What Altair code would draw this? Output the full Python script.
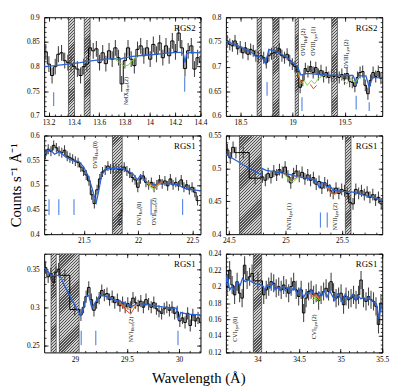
import altair as alt
import pandas as pd

FONT = "Liberation Serif"
W, H = 160, 101
BLUE = "#2a62d4"
MARKC = "#5a8ae6"
ERRC = "#444444"
FS_MAIN, FS_SUB = 6, 4.5

# ---------------- data: spectra as (bin_start, bin_width, values) segments ----------------
p1_bins = [(13.165, 0.025, [0.830, 0.805, 0.782, 0.800, 0.825, 0.828, 0.812, 0.808, 0.806, 0.800,
                            0.795, 0.782, 0.800, 0.805, 0.838, 0.832, 0.836, 0.808, 0.828, 0.806,
                            0.832, 0.815, 0.838, 0.818, 0.765, 0.812, 0.838, 0.815, 0.802, 0.835,
                            0.842, 0.822, 0.838, 0.815, 0.845, 0.825, 0.848, 0.818, 0.842, 0.822,
                            0.852, 0.830, 0.868, 0.838, 0.796, 0.832, 0.842, 0.795, 0.818, 0.808])]
p2_bins = [(18.36, 0.025, [0.752, 0.745, 0.742, 0.752, 0.736, 0.740, 0.728, 0.738, 0.725, 0.735,
                           0.732, 0.722, 0.720, 0.722, 0.718, 0.708, 0.722, 0.726, 0.728, 0.730,
                           0.736, 0.722, 0.718, 0.725, 0.712, 0.705, 0.700, 0.690, 0.658, 0.672,
                           0.696, 0.690, 0.700, 0.688, 0.698, 0.684, 0.692, 0.680, 0.688, 0.678,
                           0.682, 0.680, 0.683, 0.678, 0.684, 0.675, 0.686, 0.670, 0.668, 0.660,
                           0.678, 0.688, 0.690, 0.662, 0.645, 0.672, 0.688, 0.680, 0.690, 0.676])]
p3_bins = [(21.135, 0.025, [0.562, 0.572, 0.568, 0.580, 0.575, 0.568, 0.565, 0.570, 0.558, 0.555,
                            0.552, 0.548, 0.545, 0.536, 0.528, 0.520, 0.508, 0.480, 0.462, 0.490,
                            0.512, 0.526, 0.530, 0.538, 0.532, 0.534, 0.533, 0.532, 0.530, 0.536,
                            0.528, 0.524, 0.515, 0.510, 0.495, 0.512, 0.518, 0.505, 0.500, 0.505,
                            0.495, 0.500, 0.510, 0.502, 0.508, 0.498, 0.512, 0.500, 0.505, 0.498,
                            0.510, 0.495, 0.500, 0.490, 0.495, 0.485, 0.468])]
p4_bins = [(24.475, 0.025, [0.528, 0.516, 0.532, 0.524]),
           (24.575, 0.105, [0.524, 0.485]),
           (24.785, 0.025, [0.487, 0.482, 0.492, 0.486, 0.496, 0.490, 0.498, 0.494, 0.502, 0.488,
                            0.478, 0.492, 0.496, 0.488, 0.494, 0.484, 0.490, 0.482, 0.486, 0.476,
                            0.480, 0.470, 0.478, 0.474, 0.466, 0.462, 0.470, 0.462, 0.468, 0.466,
                            0.462, 0.448, 0.446, 0.468, 0.462, 0.466, 0.460, 0.464, 0.456, 0.460,
                            0.452, 0.456, 0.446])]
p5_bins = [(28.705, 0.025, [0.352, 0.340, 0.344, 0.333, 0.346, 0.350]),
           (28.855, 0.095, [0.342, 0.297]),
           (29.045, 0.025, [0.290, 0.300, 0.314, 0.326, 0.310, 0.296, 0.306, 0.312, 0.322, 0.316,
                            0.318, 0.310, 0.314, 0.306, 0.310, 0.302, 0.306, 0.300, 0.305, 0.300,
                            0.312, 0.306, 0.302, 0.308, 0.300, 0.310, 0.304, 0.300, 0.306, 0.298,
                            0.295, 0.292, 0.298, 0.300, 0.296, 0.300, 0.292, 0.294, 0.282, 0.286,
                            0.280, 0.292, 0.276, 0.290, 0.282, 0.286, 0.280])]
p6_bins = [(33.62, 0.03, [0.200, 0.220, 0.202, 0.190, 0.206, 0.192, 0.186, 0.226, 0.208, 0.212, 0.216]),
           (33.95, 0.11, [0.207]),
           (34.06, 0.03, [0.190, 0.196, 0.200, 0.206, 0.204, 0.198, 0.200, 0.196, 0.202, 0.198,
                          0.192, 0.200, 0.206, 0.196, 0.188, 0.196, 0.168, 0.186, 0.194, 0.196,
                          0.190, 0.192, 0.183, 0.190, 0.194, 0.198, 0.194, 0.206, 0.193, 0.186,
                          0.188, 0.192, 0.178, 0.188, 0.184, 0.186, 0.190, 0.184, 0.190, 0.208,
                          0.186, 0.182, 0.188, 0.184, 0.182, 0.176, 0.154, 0.180])]
errs = [0.016, 0.012, 0.010, 0.009, 0.008, 0.011]

# ---------------- continuum + absorption model (blue) ----------------
p1_mod_wl = [13.165, 13.25, 13.35, 13.45, 13.55, 13.65, 13.72, 13.76, 13.79, 13.85, 13.95, 14.05,
             14.15, 14.24, 14.265, 14.278, 14.29, 14.32, 14.4]
p1_mod = [0.800, 0.802, 0.805, 0.808, 0.812, 0.815, 0.816, 0.814, 0.817, 0.820, 0.823, 0.825,
          0.828, 0.829, 0.826, 0.808, 0.826, 0.829, 0.828]
p2_mod_wl = [18.36, 18.45, 18.516, 18.6, 18.641, 18.704, 18.741, 18.772, 18.86, 18.92, 18.985, 19.047,
             19.079, 19.126, 19.172, 19.297, 19.454, 19.579, 19.61, 19.641, 19.704, 19.735, 19.766, 19.86]
p2_mod = [0.751, 0.745, 0.738, 0.730, 0.722, 0.719, 0.706, 0.735, 0.729, 0.722, 0.712, 0.700,
          0.683, 0.686, 0.686, 0.683, 0.682, 0.682, 0.667, 0.681, 0.681, 0.658, 0.678, 0.677]
p3_mod_wl = [21.135, 21.186, 21.231, 21.276, 21.336, 21.396, 21.455, 21.5, 21.545, 21.584, 21.614,
             21.635, 21.665, 21.71, 21.77, 21.86, 21.95, 21.994, 22.024, 22.069, 22.129, 22.249,
             22.369, 22.429, 22.575]
p3_mod = [0.562, 0.572, 0.562, 0.567, 0.556, 0.549, 0.547, 0.536, 0.516, 0.487, 0.464, 0.484,
          0.520, 0.533, 0.534, 0.533, 0.523, 0.510, 0.520, 0.507, 0.500, 0.503, 0.500, 0.493, 0.488]
p4_mod_wl = [24.474, 24.785, 24.795, 24.83, 24.9, 25.0, 25.05, 25.1, 25.2, 25.27, 25.30, 25.32,
             25.35, 25.37, 25.39, 25.42, 25.46, 25.5, 25.6, 25.7, 25.8, 25.856]
p4_mod = [0.521, 0.490, 0.500, 0.497, 0.495, 0.492, 0.490, 0.488, 0.485, 0.481, 0.471, 0.479,
          0.477, 0.470, 0.475, 0.467, 0.466, 0.465, 0.464, 0.459, 0.455, 0.450]
p5_mod_wl = [28.704, 28.773, 28.835, 28.867, 28.898, 29.054, 29.079, 29.11, 29.132, 29.163, 29.194,
             29.241, 29.304, 29.366, 29.429, 29.491, 29.538, 29.616, 29.71, 29.804, 29.929, 29.976,
             29.991, 30.016, 30.085, 30.21]
p5_mod = [0.352, 0.342, 0.342, 0.339, 0.329, 0.289, 0.297, 0.314, 0.316, 0.299, 0.306, 0.316,
          0.314, 0.310, 0.308, 0.305, 0.301, 0.305, 0.303, 0.301, 0.299, 0.299, 0.283, 0.293,
          0.291, 0.290]
p6_mod_wl = [33.617, 33.637, 33.664, 33.695, 33.726, 33.754, 33.793, 33.82, 33.852, 33.891, 33.93,
             33.961, 34.055, 34.086, 34.117, 34.149, 34.18, 34.211, 34.242, 34.274, 34.305, 34.336,
             34.367, 34.399, 34.438, 34.477, 34.516, 34.555, 34.586, 34.617, 34.649, 34.68, 34.711,
             34.742, 34.774, 34.805, 34.836, 34.868, 34.899, 34.93, 34.961, 34.993, 35.024, 35.055,
             35.086, 35.118, 35.149, 35.18, 35.211, 35.243, 35.274, 35.305, 35.336, 35.368, 35.399,
             35.43, 35.462, 35.485, 35.5]
p6_mod = [0.202, 0.214, 0.196, 0.200, 0.195, 0.206, 0.202, 0.210, 0.206, 0.208, 0.206,
          0.204, 0.202, 0.196, 0.202, 0.198, 0.204, 0.196, 0.200, 0.195, 0.200, 0.195,
          0.199, 0.193, 0.200, 0.191, 0.198, 0.187, 0.193, 0.191, 0.196, 0.189, 0.187,
          0.193, 0.189, 0.195, 0.187, 0.195, 0.189, 0.183, 0.191, 0.187, 0.181, 0.191,
          0.185, 0.187, 0.191, 0.183, 0.189, 0.185, 0.187, 0.183, 0.187, 0.183, 0.181,
          0.179, 0.161, 0.177, 0.175]

# ---------------- alternative models (green / red / orange) : (colour, segment, wl, value) ----
p1_alt = [("green", 1, [13.72, 13.76, 13.80, 13.83, 13.86, 13.90], [0.816, 0.808, 0.801, 0.803, 0.812, 0.820])]
p2_alt = [("green", 1, [19.05, 19.08, 19.11, 19.14, 19.18, 19.21, 19.25, 19.30],
           [0.690, 0.665, 0.672, 0.662, 0.672, 0.665, 0.676, 0.682]),
          ("green", 2, [19.44, 19.48, 19.52, 19.56, 19.60, 19.64], [0.682, 0.674, 0.665, 0.676, 0.668, 0.680]),
          ("red", 3, [19.17, 19.20, 19.23], [0.664, 0.655, 0.662]),
          ("red", 4, [19.05, 19.08, 19.10], [0.685, 0.668, 0.675])]
p3_alt = [("green", 1, [22.08, 22.11, 22.14, 22.17, 22.20], [0.504, 0.497, 0.490, 0.494, 0.502]),
          ("red", 2, [22.08, 22.11, 22.14, 22.17, 22.21], [0.506, 0.501, 0.497, 0.500, 0.505]),
          ("orange", 3, [22.09, 22.12, 22.15, 22.18, 22.21], [0.505, 0.499, 0.495, 0.499, 0.504])]
p4_alt = [("green", 1, [24.98, 25.02, 25.05, 25.08, 25.12], [0.492, 0.486, 0.479, 0.481, 0.488]),
          ("red", 2, [24.98, 25.02, 25.05, 25.08, 25.12], [0.493, 0.488, 0.482, 0.484, 0.489]),
          ("orange", 3, [25.37, 25.40, 25.43, 25.46], [0.472, 0.463, 0.460, 0.464]),
          ("red", 4, [25.37, 25.41, 25.44, 25.47], [0.471, 0.462, 0.461, 0.465])]
p5_alt = [("red", 1, [29.42, 29.46, 29.50, 29.535, 29.57, 29.61], [0.307, 0.300, 0.295, 0.291, 0.299, 0.305]),
          ("orange", 2, [29.44, 29.48, 29.52, 29.56, 29.60], [0.305, 0.300, 0.297, 0.300, 0.304])]
p6_alt = [("red", 1, [34.63, 34.66, 34.69, 34.72, 34.75], [0.192, 0.188, 0.191, 0.186, 0.189]),
          ("green", 2, [34.64, 34.67, 34.70, 34.73, 34.76], [0.186, 0.184, 0.187, 0.183, 0.186]),
          ("orange", 3, [34.65, 34.68, 34.71, 34.74], [0.190, 0.187, 0.189, 0.185])]

# ---------------- excluded regions (hatched) ----------------
p1_bands = [(13.357, 13.405), (13.482, 13.528)]
p2_bands = [(18.66, 18.70), (18.81, 18.87), (19.025, 19.056), (19.375, 19.43)]
p3_bands = [(21.764, 21.854)]
p4_bands = [(24.594, 24.787), (25.53, 25.58)]
p5_bands = [(28.77, 28.82), (28.85, 29.04)]
p6_bands = [(33.95, 34.05)]

# ---------------- line position markers (wl, y_low, y_high) ----------------
p1_marks = [(13.24, 0.720, 0.748), (14.275, 0.749, 0.780)]
p2_marks = [(18.755, 0.641, 0.669), (19.09, 0.610, 0.638), (19.61, 0.613, 0.641), (19.735, 0.610, 0.628)]
p3_marks = [(21.18, 0.439, 0.471), (21.27, 0.439, 0.471), (21.41, 0.439, 0.471),
            (22.12, 0.439, 0.471), (22.41, 0.439, 0.471)]
p4_marks = [(25.31, 0.410, 0.433), (25.37, 0.410, 0.433)]
p5_marks = [(29.06, 0.250, 0.269), (29.20, 0.250, 0.269), (29.99, 0.250, 0.269)]
p6_marks = []

# ---------------- line labels (wl, y start, ion, subscript, system) ----------------
p1_labels = [(13.81, 0.722, "NeIX", "Heα", "(2)")]
p2_labels = [(19.105, 0.722, "OVII", "Heβ", "(2)"), (19.20, 0.722, "OVIII", "Lyα", "(1)"),
             (19.51, 0.696, "OVIII", "Lyα", "(2)")]
p3_labels = [(21.605, 0.533, "OVII", "Heα", "(0)"), (21.83, 0.418, "OVII", "Heα", "(1)"),
             (22.01, 0.418, "OVI", "Kα", "(0)"), (22.15, 0.418, "OVII", "Heα", "(2)")]
p4_labels = [(25.03, 0.406, "NVII", "Lyα", "(1)"), (25.44, 0.406, "NVII", "Lyα", "(2)")]
p5_labels = [(29.54, 0.254, "NVI", "Heα", "(2)")]
p6_labels = [(33.73, 0.133, "CVI", "Lyα", "(0)"), (34.68, 0.136, "CVI", "Lyα", "(2)")]

# ---------------- axes ----------------
p1_xt, p1_yt = [13.2, 13.4, 13.6, 13.8, 14.0, 14.2, 14.4], [0.7, 0.75, 0.8, 0.85, 0.9]
p2_xt, p2_yt = [18.5, 19.0, 19.5], [0.6, 0.65, 0.7, 0.75, 0.8]
p3_xt, p3_yt = [21.5, 22.0, 22.5], [0.4, 0.45, 0.5, 0.55, 0.6]
p4_xt, p4_yt = [24.5, 25.0, 25.5], [0.4, 0.45, 0.5, 0.55]
p5_xt, p5_yt = [29.0, 29.5, 30.0], [0.25, 0.3, 0.35]
p6_xt, p6_yt = [34.0, 34.5, 35.0, 35.5], [0.12, 0.14, 0.16, 0.18, 0.2, 0.22, 0.24]

panels = [
    dict(bins=p1_bins, err=errs[0], mw=p1_mod_wl, mv=p1_mod, alt=p1_alt, bands=p1_bands, marks=p1_marks,
         labels=p1_labels, xdom=[13.165, 14.4], ydom=[0.7, 0.9], xt=p1_xt, yt=p1_yt, xm=0.05, ym=0.01, rgs="RGS2"),
    dict(bins=p2_bins, err=errs[1], mw=p2_mod_wl, mv=p2_mod, alt=p2_alt, bands=p2_bands, marks=p2_marks,
         labels=p2_labels, xdom=[18.36, 19.86], ydom=[0.6, 0.8], xt=p2_xt, yt=p2_yt, xm=0.1, ym=0.01, rgs="RGS2"),
    dict(bins=p3_bins, err=errs[2], mw=p3_mod_wl, mv=p3_mod, alt=p3_alt, bands=p3_bands, marks=p3_marks,
         labels=p3_labels, xdom=[21.135, 22.575], ydom=[0.4, 0.6], xt=p3_xt, yt=p3_yt, xm=0.1, ym=0.01, rgs="RGS1"),
    dict(bins=p4_bins, err=errs[3], mw=p4_mod_wl, mv=p4_mod, alt=p4_alt, bands=p4_bands, marks=p4_marks,
         labels=p4_labels, xdom=[24.474, 25.856], ydom=[0.4, 0.55], xt=p4_xt, yt=p4_yt, xm=0.1, ym=0.01, rgs="RGS1"),
    dict(bins=p5_bins, err=errs[4], mw=p5_mod_wl, mv=p5_mod, alt=p5_alt, bands=p5_bands, marks=p5_marks,
         labels=p5_labels, xdom=[28.704, 30.206], ydom=[0.2407, 0.3703], xt=p5_xt, yt=p5_yt, xm=0.1, ym=0.01, rgs="RGS1"),
    dict(bins=p6_bins, err=errs[5], mw=p6_mod_wl, mv=p6_mod, alt=p6_alt, bands=p6_bands, marks=p6_marks,
         labels=p6_labels, xdom=[33.62, 35.5], ydom=[0.12, 0.24], xt=p6_xt, yt=p6_yt, xm=0.1, ym=0.005, rgs="RGS1"),
]

CW = {"N": .722, "e": .444, "I": .333, "X": .722, "O": .722, "V": .722, "L": .611, "K": .722,
      "C": .667, "H": .722, "y": .5, "α": .55, "β": .5, "(": .333, ")": .333}


def tw(s, size):
    return sum(CW.get(c, 0.5) for c in s) * size


def minor(lo, hi, step):
    out, k = [], 0
    v0 = round(lo / step) * step
    while v0 + k * step <= hi + 1e-9:
        v = round(v0 + k * step, 4)
        if v >= lo - 1e-9:
            out.append(v)
        k += 1
    return out


def hatch(w_px, h_px, period=3.0, dark="#505050", light="#cfcfcf", frac=0.45):
    # diagonal '/' hatching done with a hard-stop linear gradient in bounding-box units
    s = h_px * (w_px + h_px) / (h_px ** 2 + w_px ** 2)
    dt = period / (w_px + h_px)
    stops, t = [], 0.0
    while t < 1.0:
        a, b, c = t, min(t + frac * dt, 1.0), min(t + dt, 1.0)
        stops += [dict(offset=round(a, 5), color=dark), dict(offset=round(b, 5), color=dark),
                  dict(offset=round(b, 5), color=light), dict(offset=round(c, 5), color=light)]
        t += dt
    return dict(gradient="linear", x1=0, y1=0, x2=round(s * w_px / h_px, 5), y2=round(s, 5), stops=stops)


def tick_axis(orient, values, size, offset):
    return alt.Axis(orient=orient, offset=offset, values=values, labels=False, domain=False,
                    ticks=True, tickSize=size, tickColor="black", tickWidth=0.8, grid=False, title=None)


def make_panel(p, ytitle=None):
    xs = alt.Scale(domain=p["xdom"], nice=False, zero=False)
    ys = alt.Scale(domain=p["ydom"], nice=False, zero=False)
    xmin, xmax = p["xdom"]
    ymin, ymax = p["ydom"]

    cen, stp = [], []
    for start, width, vals in p["bins"]:
        for i, v in enumerate(vals):
            left = start + i * width
            cen.append(dict(wl=left + width / 2, lo=v - p["err"], hi=v + p["err"]))
            stp.append(dict(wl=left, f=v))
    ls, lw, lv = p["bins"][-1]
    stp.append(dict(wl=ls + len(lv) * lw, f=lv[-1]))
    df_c, df_s = pd.DataFrame(cen), pd.DataFrame(stp)
    df_m = pd.DataFrame(dict(wl=p["mw"], f=p["mv"]))
    alt_rows = []
    for col, seg, wls, vals in p["alt"]:
        for w_, v in zip(wls, vals):
            alt_rows.append(dict(wl=w_, f=v, c=col, seg=seg))
    df_a = pd.DataFrame(alt_rows)

    k = (ymax - ymin) / H
    main, sub = [], []
    for wl, y0, ion, sb, sfx in p["labels"]:
        w1, w2 = tw(ion, FS_MAIN), tw(sb, FS_SUB)
        main.append(dict(wl=wl, y=y0, t=ion))
        sub.append(dict(wl=wl, y=y0 + (w1 + 0.3) * k, t=sb))
        main.append(dict(wl=wl, y=y0 + (w1 + w2 + 0.6) * k, t=sfx))
    df_lm, df_ls = pd.DataFrame(main), pd.DataFrame(sub)

    xmn, ymn = minor(xmin, xmax, p["xm"]), minor(ymin, ymax, p["ym"])

    lab_x = alt.Axis(orient="bottom", values=p["xt"], format="~g", ticks=False, domain=False, grid=False,
                     labelFont=FONT, labelFontSize=7.5, labelPadding=3, labelFlush=False,
                     labelOverlap=False, labelColor="black", title=None)
    lab_y_kw = dict(orient="left", values=p["yt"], format="~g", ticks=False, domain=False, grid=False,
                    labelFont=FONT, labelFontSize=7.5, labelPadding=5, labelFlush=False,
                    labelOverlap=False, labelColor="black")
    if ytitle:
        lab_y = alt.Axis(title=ytitle, titleFont=FONT, titleFontSize=15, titleFontWeight="normal",
                         titlePadding=3, titleColor="black", **lab_y_kw)
    else:
        lab_y = alt.Axis(title=None, **lab_y_kw)

    layers = []
    for a, b in p["bands"]:
        wpx = (b - a) / (xmax - xmin) * W
        df_b = pd.DataFrame([dict(x1=a, x2=b, y1=ymin, y2=ymax)])
        layers.append(alt.Chart(df_b).mark_rect(fill=hatch(wpx, H), stroke="#222222", strokeWidth=0.6,
                                                clip=True).encode(
            x=alt.X("x1:Q", scale=xs, axis=None), x2="x2:Q",
            y=alt.Y("y1:Q", scale=ys, axis=None), y2="y2:Q"))

    ebar = alt.Chart(df_c).mark_rule(color=ERRC, strokeWidth=1.1, clip=True).encode(
        x=alt.X("wl:Q", scale=xs, axis=lab_x),
        y=alt.Y("lo:Q", scale=ys, axis=lab_y), y2="hi:Q")
    step = alt.Chart(df_s).mark_line(interpolate="step-after", color="black", strokeWidth=1, clip=True).encode(
        x=alt.X("wl:Q", scale=xs, axis=tick_axis("top", p["xt"], 4, -H)),
        y=alt.Y("f:Q", scale=ys, axis=tick_axis("right", p["yt"], 4, -W)))
    model = alt.Chart(df_m).mark_line(color=BLUE, strokeWidth=1.3, clip=True).encode(
        x=alt.X("wl:Q", scale=xs, axis=tick_axis("bottom", p["xt"], 4, -H)),
        y=alt.Y("f:Q", scale=ys, axis=tick_axis("left", p["yt"], 4, -W)))
    altm = alt.Chart(df_a).mark_line(strokeWidth=1, clip=True).encode(
        x=alt.X("wl:Q", scale=xs, axis=None), y=alt.Y("f:Q", scale=ys, axis=None),
        color=alt.Color("c:N", scale=alt.Scale(domain=["green", "red", "orange"],
                                               range=["#7fd83a", "#e8442a", "#f0a030"]), legend=None),
        detail="seg:N")
    lmain = alt.Chart(df_lm).mark_text(angle=270, align="left", baseline="middle", font=FONT,
                                       fontSize=FS_MAIN, color="black").encode(
        x=alt.X("wl:Q", scale=xs, axis=tick_axis("top", xmn, 2, -H)),
        y=alt.Y("y:Q", scale=ys, axis=tick_axis("right", ymn, 2, -W)), text="t:N")
    lsub = alt.Chart(df_ls).mark_text(angle=270, align="left", baseline="middle", font=FONT,
                                      fontSize=FS_SUB, dy=2.2, color="black").encode(
        x=alt.X("wl:Q", scale=xs, axis=tick_axis("bottom", xmn, 2, -H)),
        y=alt.Y("y:Q", scale=ys, axis=tick_axis("left", ymn, 2, -W)), text="t:N")
    rgs = alt.Chart(pd.DataFrame({"t": [p["rgs"]]})).mark_text(
        align="right", baseline="top", font=FONT, fontSize=9, color="black").encode(
        x=alt.value(W - 5), y=alt.value(7), text="t:N")

    layers += [ebar, step, model, altm]
    if p["marks"]:
        df_k = pd.DataFrame([dict(wl=a, y1=b, y2=c) for a, b, c in p["marks"]])
        layers.append(alt.Chart(df_k).mark_rule(color=MARKC, strokeWidth=1.2).encode(
            x=alt.X("wl:Q", scale=xs, axis=None), y=alt.Y("y1:Q", scale=ys, axis=None), y2="y2:Q"))
    layers += [lmain, lsub, rgs]
    return alt.layer(*layers).resolve_axis(x="independent", y="independent").properties(width=W, height=H)


charts = [make_panel(p, "Counts s⁻¹ Å⁻¹" if i == 2 else None) for i, p in enumerate(panels)]

chart = alt.concat(*charts, columns=2, spacing={"row": 20, "column": 26}, bounds="flush").properties(
    title=alt.TitleParams("Wavelength (Å)", orient="bottom", anchor="middle", font=FONT, fontSize=15,
                          fontWeight="normal", offset=8, color="black"),
    padding={"left": 0, "top": 0, "right": 2, "bottom": 0},
).configure_view(stroke="black", strokeWidth=1)

chart.save("out.html", embed_options={"renderer": "svg", "actions": False})
